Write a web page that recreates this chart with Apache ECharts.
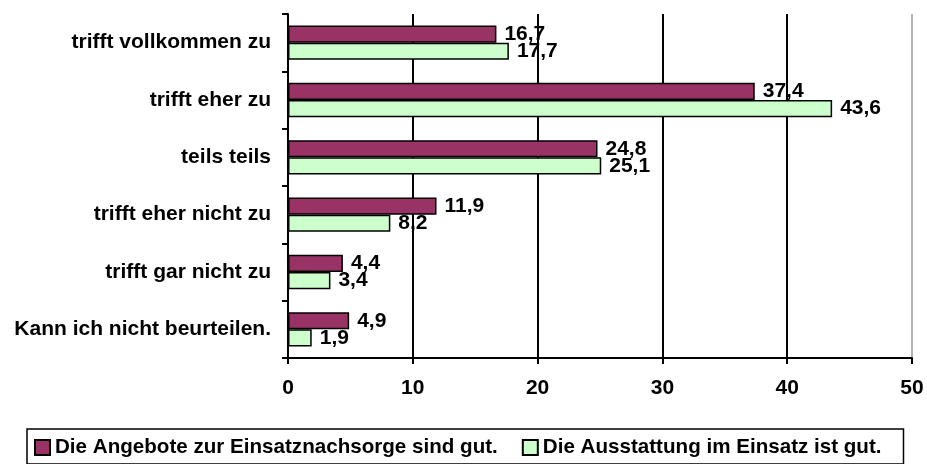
<!DOCTYPE html>
<html>
<head>
<meta charset="utf-8">
<script src="https://cdn.jsdelivr.net/npm/echarts@6/dist/echarts.min.js"></script>
<style>
  html, body { margin: 0; padding: 0; background: #fff; }
  #chart { width: 927px; height: 464px; }
</style>
</head>
<body>
<div id="chart"></div>
<script>
const categories = [
  'trifft vollkommen zu',
  'trifft eher zu',
  'teils teils',
  'trifft eher nicht zu',
  'trifft gar nicht zu',
  'Kann ich nicht beurteilen.'
];
const angeboteValues = [16.7, 37.4, 24.8, 11.9, 4.4, 4.9];
const ausstattungValues = [17.7, 43.6, 25.1, 8.2, 3.4, 1.9];
const seriesNames = [
  'Die Angebote zur Einsatznachsorge sind gut.',
  'Die Ausstattung im Einsatz ist gut.'
];

const font = 'Liberation Sans, Arial, sans-serif';
const chart = echarts.init(document.getElementById('chart'));

// Excel style: comma as decimal separator
const fmt = (p) => p.value.toFixed(1).replace('.', ',');

const labelStyle = {
  show: true,
  position: 'right',
  distance: 8,
  formatter: fmt,
  color: '#000',
  fontFamily: font,
  fontWeight: 'bold',
  fontSize: 21
};

chart.setOption({
  animation: false,
  grid: { left: 288, right: 15, top: 14, bottom: 106 },
  xAxis: {
    type: 'value',
    min: 0,
    max: 50,
    interval: 10,
    axisLine: { show: true, lineStyle: { color: '#000', width: 2 } },
    axisTick: { show: true, length: 6, lineStyle: { color: '#000', width: 2 } },
    axisLabel: { color: '#000', fontFamily: font, fontWeight: 'bold', fontSize: 21, margin: 20 },
    splitLine: {
      show: true,
      lineStyle: { color: ['#000', '#000', '#000', '#000', '#000', '#b4b4b4'], width: 2 }
    }
  },
  yAxis: {
    type: 'category',
    inverse: true,
    data: categories,
    axisLine: { show: true, lineStyle: { color: '#000', width: 2 } },
    axisTick: { show: true, length: 6, lineStyle: { color: '#000', width: 2 } },
    axisLabel: { color: '#000', fontFamily: font, fontWeight: 'bold', fontSize: 21, margin: 17 }
  },
  legend: {
    left: 27,
    top: 429,
    padding: [8, 22, 6, 7],
    borderColor: '#000',
    borderWidth: 1.5,
    itemWidth: 15,
    itemHeight: 15,
    itemGap: 24,
    icon: 'rect',
    textStyle: { color: '#000', fontFamily: font, fontWeight: 'bold', fontSize: 20.6 },
    data: seriesNames
  },
  series: [
    {
      name: seriesNames[0],
      type: 'bar',
      data: angeboteValues,
      barGap: '0%',
      barCategoryGap: '40%',
      itemStyle: { color: '#993366', borderColor: '#000', borderWidth: 1.5 },
      label: labelStyle
    },
    {
      name: seriesNames[1],
      type: 'bar',
      data: ausstattungValues,
      barGap: '0%',
      barCategoryGap: '40%',
      itemStyle: { color: '#ccffcc', borderColor: '#000', borderWidth: 1.5 },
      label: labelStyle
    }
  ]
});
</script>
</body>
</html>
